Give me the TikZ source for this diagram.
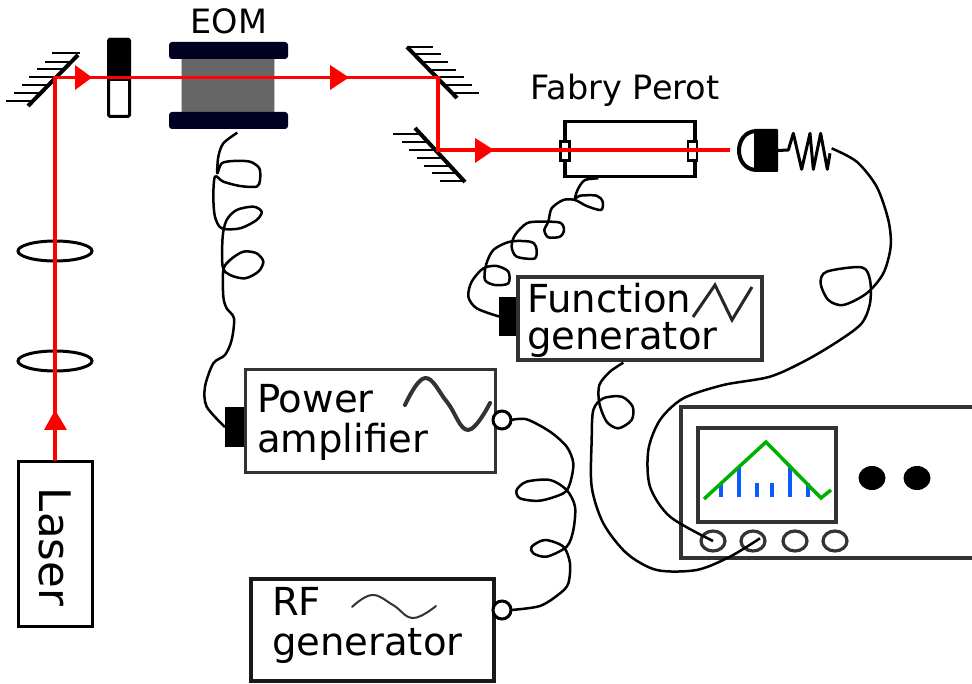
\documentclass[tikz,border=0pt]{standalone}
\usepackage{fontspec}
\setmainfont{DejaVu Sans}
\definecolor{ink}{HTML}{333333}
\definecolor{plate}{HTML}{000022}
\definecolor{beamred}{HTML}{FF0000}
\definecolor{tracegreen}{HTML}{00B000}
\definecolor{barblue}{HTML}{0A5CFF}
\tikzset{
  box/.style={draw=black,rectangle,fill=white,inner sep=0pt,outer sep=0pt,line width=3pt},
  heavybox/.style={draw=ink,rectangle,fill=white,inner sep=0pt,outer sep=0pt,line width=4pt},
  block/.style={fill=black,rectangle,inner sep=0pt,outer sep=0pt},
  lbl/.style={inner sep=0pt,outer sep=0pt,anchor=base west,text=black,font=\fontsize{38.6}{38.6}\selectfont},
  smalllbl/.style={inner sep=0pt,outer sep=0pt,anchor=base,text=black,font=\fontsize{33.5}{33.5}\selectfont},
  mirror/.style={line width=4pt,black},
  hatch/.style={line width=2.2pt,black},
  beam/.style={line width=3.6pt,beamred,line join=miter},
  beamtip/.style={fill=beamred},
  lens/.style={draw=black,ellipse,line width=3pt,minimum width=74pt,minimum height=20pt,inner sep=0pt,outer sep=0pt},
  knob/.style={draw=ink,ellipse,line width=3.2pt,minimum width=24pt,minimum height=20pt,inner sep=0pt,outer sep=0pt},
  port/.style={draw=black,circle,fill=white,line width=3pt,minimum size=18pt,inner sep=0pt,outer sep=0pt},
  cable/.style={line width=2.5pt,black,line join=round},
  curl/.style={smooth,tension=0.5},
}
\usetikzlibrary{shapes.geometric}
\begin{document}
\begin{tikzpicture}[x=1pt,y=-1pt]
\useasboundingbox (0,0) rectangle (972,684);
\fill[white] (0,0) rectangle (972,684);

% mirrors
\foreach \yy/\xx in {53.3/52,61.7/45,69.3/37,77.3/29,85/22,93.3/14,101/6}
  \draw[hatch] (\xx,\yy) -- ({78-(\yy-55)*50/51},\yy);
\draw[mirror] (28,106) -- (78,55);
\foreach \yy/\xx in {47/433,54/441,62/448,70/456,77/464,85/472,93/479}
  \draw[hatch] ({407+(\yy-47)*50/51},\yy) -- (\xx,\yy);
\draw[mirror] (407,47) -- (457,98);
\foreach \yy/\xx in {134/393,142/402,150/409,158/417,166/424,173/432,181/440}
  \draw[hatch] (\xx,\yy) -- ({415+(\yy-128)*50/54},\yy);
\draw[mirror] (415,128) -- (465,182);

% lenses
\node[lens] (lensA) at (55,251) {};
\node[lens] (lensB) at (55,361) {};

% filter holder
\node[box,rounded corners=1.5pt,minimum width=21pt,minimum height=77pt] (filter) at (119,78) {};
\fill[black,rounded corners=1.5pt] (107.5,38) rectangle (130.5,81);

% EOM
\node[rectangle,fill=ink!75!white,draw=ink!30!white,line width=.6pt,inner sep=0pt,minimum width=93pt,minimum height=56pt] (eomcore) at (227.5,85) {};
\node[block,fill=plate,rounded corners=3pt,minimum width=119pt,minimum height=17pt] (eomtop) at (228.5,50.5) {};
\node[block,fill=plate,rounded corners=3pt,minimum width=119pt,minimum height=17pt] (eombot) at (228.5,120.5) {};
\node[smalllbl] (eomlabel) at (229,34) {EOM};

% Fabry Perot
\node[box,draw=black,line width=3.4pt,minimum width=130pt,minimum height=55pt] (fp) at (630,149) {};
\node[box,line width=2.6pt,minimum width=9pt,minimum height=19pt] (fpL) at (565,151) {};
\node[box,line width=2.6pt,minimum width=9pt,minimum height=19pt] (fpR) at (692.5,151) {};
\node[smalllbl] (fplabel) at (625,100) {Fabry Perot};

% detector
\draw[black,line width=4pt,fill=white] (757,131) .. controls (733,131) and (733,170) .. (757,170);
\node[block,rounded corners=1pt,minimum width=24pt,minimum height=43pt] (det) at (766,150.5) {};
\coordinate (beamend) at (730,150);

% laser
\node[box,minimum width=74pt,minimum height=165pt] (laser) at (55,543.5) {};
\node[inner sep=0pt,rotate=-90,font=\fontsize{43.5}{43.5}\selectfont] (laserlabel) at (55,547) {Laser};

% beam
\coordinate (mA) at (55,77.5);
\coordinate (mB) at (438,77.5);
\coordinate (mC) at (438,150);
\draw[beam] (laser.north) -- (mA) -- (mB) -- (mC) -- (beamend);
\fill[beamtip] (75,65) -- (92,77.5) -- (75,90) -- cycle;
\fill[beamtip] (330,65) -- (349,77.5) -- (330,90) -- cycle;
\fill[beamtip] (475,138) -- (494,150) -- (475,163) -- cycle;
\fill[beamtip] (44,430) -- (55,410) -- (67,430) -- cycle;

% function generator
\node[block,minimum width=20pt,minimum height=39pt] (fgport) at (509,316.5) {};
\node[heavybox,minimum width=244pt,minimum height=83pt] (fg) at (640,318.5) {};
\node[lbl] (fgA) at (527,313) {Function};
\node[lbl] (fgB) at (527,350) {generator};
\draw[black!85,line width=3pt,line join=miter] (693,317) -- (715,285) -- (732,320) -- (752,287);

% power amplifier
\node[block,minimum width=22pt,minimum height=40pt] (ampport) at (236,427) {};
\node[box,draw=ink,minimum width=250pt,minimum height=102pt] (amp) at (370,421) {};
\node[lbl] (ampA) at (257,413) {Power};
\node[lbl] (ampB) at (257,452) {amplifier};
\draw[ink,line width=4pt,line cap=round] plot[smooth,tension=.7] coordinates {(405,405) (425,378) (447,402) (468,430) (490,403)};
\node[port] (ampout) at (502,420) {};

% RF generator
\node[heavybox,draw=black!90,minimum width=243pt,minimum height=102pt] (rf) at (372.5,630) {};
\node[lbl] (rfA) at (272,615) {RF};
\node[lbl] (rfB) at (272,655) {generator};
\draw[ink,line width=2pt,line cap=round] plot[smooth,tension=.7] coordinates {(352,607) (372,595) (393,605) (413,618) (436,606)};
\node[port] (rfout) at (502,610) {};

% oscilloscope
\draw[ink,line width=4pt,fill=white] (980,407) -- (681,407) -- (681,558) -- (980,558);
\coordinate (scope) at (681,482);
\node[heavybox,minimum width=138pt,minimum height=94pt] (screen) at (767,475) {};
\foreach \xx/\yy in {721/483,739/467,757/483,772/483,790/467,808/483}
  \draw[barblue,line width=4.5pt] (\xx,\yy) -- (\xx,497);
\draw[tracegreen,line width=3.5pt,line join=miter] (704,499) -- (766,442) -- (821,498) -- (831,490);
\node[knob] (knobA) at (713,541) {};
\node[knob] (knobB) at (753,541) {};
\node[knob] (knobC) at (795,541) {};
\node[knob] (knobD) at (835,541) {};
\node[ellipse,fill=black,minimum width=27pt,minimum height=24pt,inner sep=0pt] (dotA) at (872,478) {};
\node[ellipse,fill=black,minimum width=27pt,minimum height=24pt,inner sep=0pt] (dotB) at (917,478) {};

% spring on the detector
\begin{scope}[shift={(400,30)},x=.33333pt,y=-.33333pt]
  \draw[black,line width=3pt,line join=round] (det.east) -- (1165,360) -- (1180,310) -- (1205,418) -- (1230,310) -- (1240,418) -- (1262,310) -- (1282,418) -- (1290,370);
  \coordinate (springend) at (1295,355);
  % detector to oscilloscope
  \coordinate (knobAin) at (knobA.center);
  \draw[cable] plot[curl] coordinates {(springend) (1370,395) (1430,470) (1465,570) (1472,650) (1450,730) (1400,790) (1330,825) (1285,810) (1262,760) (1280,725) (1385,712) (1410,750) (1410,820) (1385,880) (1320,930) (1220,990) (1110,1040) (970,1065) (850,1105) (780,1170) (745,1260) (750,1370) (810,1460) (knobAin)};
  % Fabry Perot to function generator
  \coordinate (fpout) at (595,445);
  \draw[cable] plot[curl] coordinates {(fpout) (555,450) (535,475) (525,505) (540,497) (590,497) (608,515) (603,540) (560,528) (525,510) (490,510) (455,535) (445,575) (433,600) (445,622) (480,620) (492,600) (480,578) (420,575) (380,580) (345,615) (335,650) (350,680) (405,685) (408,650) (390,635) (330,635) (280,660) (258,705) (255,750) (285,765) (325,760) (325,725) (290,708) (250,715) (215,755) (205,800) (230,835) (fgport.west)};
\end{scope}

\begin{scope}[shift={(590,340)},x=.33333pt,y=-.33333pt]
  % function generator to oscilloscope
  \coordinate (fgout) at (100,68);
  \coordinate (knobBin) at (510,595);
  \draw[cable] plot[curl] coordinates {(fgout) (60,95) (28,135) (28,190) (50,245) (85,265) (125,240) (128,200) (95,170) (40,175) (10,210) (5,300) (5,440) (40,550) (110,640) (200,690) (320,690) (420,650) (knobBin)};
\end{scope}

\begin{scope}[shift={(190,350)},x=.33333pt,y=-.33333pt]
  % power amplifier to RF generator
  \draw[cable] plot[curl] coordinates {(ampout.east) (1010,208) (1080,245) (1130,290) (1150,340) (1140,400) (1120,430) (1050,452) (990,445) (980,420) (1010,395) (1080,390) (1130,420) (1155,470) (1150,540) (1130,590) (1070,620) (1030,610) (1025,590) (1065,570) (1120,590) (1140,640) (1135,700) (1110,730) (1050,768) (rfout.east)};
\end{scope}

\begin{scope}[x=.33333pt,y=-.33333pt]
  % EOM to power amplifier
  \coordinate (eomout) at (712,398);
  \draw[cable] plot[curl] coordinates {(eomout) (670,430) (655,470) (652,520) (665,490) (700,483) (750,485) (778,505) (780,540) (770,560) (720,558) (670,545) (645,530) (640,590) (645,650) (665,685) (720,685) (770,660) (785,635) (760,620) (710,630) (680,660) (668,710) (668,800) (690,825) (735,835) (775,815) (790,785) (770,760) (730,755) (690,780) (670,810) (670,890) (680,925) (702,955) (695,1020) (675,1065) (640,1090) (615,1160) (620,1220) (ampport.west)};
\end{scope}
\end{tikzpicture}
\end{document}
